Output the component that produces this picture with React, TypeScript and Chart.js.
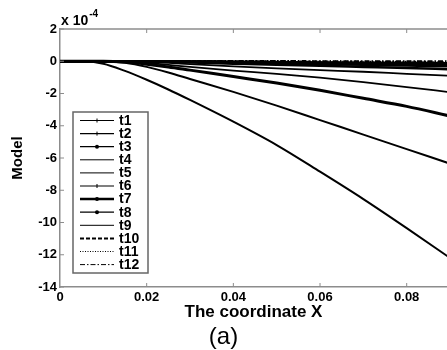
import React, { useEffect, useRef } from "react";
import { Chart, registerables } from "chart.js";

Chart.register(...registerables);

const xValues = [0, 0.005, 0.01, 0.015, 0.02, 0.025, 0.03, 0.04, 0.05, 0.06, 0.07, 0.08, 0.09];
const seriesLabels = ["t1", "t2", "t3", "t4", "t5", "t6", "t7", "t8", "t9", "t10", "t11", "t12"];
const t1 = [0, 0, 0, 0, 0, 0, -0.01, -0.03, -0.05, -0.07, -0.09, -0.1, -0.12];
const t2 = [0, 0, 0, 0, 0, 0, -0.02, -0.05, -0.08, -0.11, -0.14, -0.17, -0.2];
const t3 = [0, 0, 0, 0, 0, 0, -0.03, -0.08, -0.12, -0.17, -0.22, -0.27, -0.32];
const t4 = [0, 0, 0, 0, 0, -0.03, -0.08, -0.15, -0.22, -0.28, -0.35, -0.42, -0.5];
const t5 = [0, 0, 0, 0, -0.04, -0.1, -0.18, -0.32, -0.44, -0.55, -0.65, -0.78, -0.9];
const t6 = [0, 0, 0, -0.02, -0.1, -0.22, -0.35, -0.58, -0.78, -1.02, -1.3, -1.6, -1.92];
const t7 = [0, 0, 0, -0.05, -0.18, -0.35, -0.55, -0.95, -1.35, -1.8, -2.3, -2.8, -3.4];
const t8 = [0, 0, 0, -0.1, -0.35, -0.7, -1.1, -1.9, -2.75, -3.65, -4.55, -5.45, -6.35];
const t9 = [0, 0, -0.15, -0.6, -1.15, -1.75, -2.4, -3.75, -5.2, -6.85, -8.55, -10.35, -12.2];
const t10 = [0, 0, 0, 0, 0, 0, -0.02, -0.04, -0.06, -0.09, -0.11, -0.13, -0.15];
const t11 = [0, 0, 0, 0, 0, 0, 0, -0.01, -0.02, -0.03, -0.04, -0.05, -0.06];
const t12 = [0, 0, 0, 0, 0, 0, 0, 0, 0, -0.01, -0.01, -0.02, -0.02];
const seriesValues = [t1, t2, t3, t4, t5, t6, t7, t8, t9, t10, t11, t12];
const xTicks = [0, 0.02, 0.04, 0.06, 0.08];
const yTicks = [2, 0, -2, -4, -6, -8, -10, -12, -14];

const widths = [2.5, 2.5, 2.5, 2.5, 1.8, 1.8, 3, 2, 2, 2.5, 2.5, 2.5];
const legendWidths = [1.2, 1.2, 1.2, 1, 1, 1.2, 2.5, 1.2, 1, 2, 1, 1];
const dashes: number[][] = [[], [], [], [], [], [], [], [], [], [4, 2], [1, 1.5], [5, 2, 1.5, 2]];
const markers = ["cross", "cross", "circle", "", "", "cross", "circle", "circle", "", "", "", ""];

const AXIS = "#8c8c8c";
const FONT = "'Liberation Sans', Arial, sans-serif";

const decorPlugin = {
  id: "decor",
  afterDatasetsDraw(chart: any) {
    const { ctx, chartArea } = chart;
    const xs = chart.scales.x;
    const ys = chart.scales.y;
    ctx.save();
    // top border
    ctx.strokeStyle = AXIS;
    ctx.lineWidth = 1.5;
    ctx.beginPath();
    ctx.moveTo(chartArea.left, chartArea.top);
    ctx.lineTo(chartArea.right, chartArea.top);
    ctx.stroke();
    // inward ticks
    ctx.lineWidth = 1;
    xTicks.forEach((v) => {
      if (v === 0) return;
      const px = xs.getPixelForValue(v);
      ctx.beginPath();
      ctx.moveTo(px, chartArea.bottom);
      ctx.lineTo(px, chartArea.bottom - 4);
      ctx.moveTo(px, chartArea.top);
      ctx.lineTo(px, chartArea.top + 4);
      ctx.stroke();
    });
    yTicks.forEach((v) => {
      const py = ys.getPixelForValue(v);
      ctx.beginPath();
      ctx.moveTo(chartArea.left, py);
      ctx.lineTo(chartArea.left + 4, py);
      ctx.stroke();
    });
    // exponent label
    ctx.fillStyle = "#000";
    ctx.textBaseline = "middle";
    ctx.textAlign = "left";
    ctx.font = `bold 14px ${FONT}`;
    ctx.fillText("x 10", chartArea.left + 1, chartArea.top - 8);
    const w = ctx.measureText("x 10").width;
    ctx.font = `bold 10px ${FONT}`;
    ctx.fillText("-4", chartArea.left + 2 + w, chartArea.top - 15);

    // legend box
    const x0 = chartArea.left + 13;
    const y0 = chartArea.top + 83;
    const bw = 75;
    const bh = 161;
    ctx.fillStyle = "#fff";
    ctx.fillRect(x0, y0, bw, bh);
    ctx.strokeStyle = "#666";
    ctx.lineWidth = 1.5;
    ctx.strokeRect(x0, y0, bw, bh);
    chart.data.datasets.forEach((ds: any, i: number) => {
      const y = y0 + 8.5 + i * 13.1;
      ctx.strokeStyle = "#000";
      ctx.lineWidth = legendWidths[i];
      ctx.setLineDash(ds.borderDash || []);
      ctx.beginPath();
      ctx.moveTo(x0 + 7, y);
      ctx.lineTo(x0 + 41, y);
      ctx.stroke();
      ctx.setLineDash([]);
      const m = markers[i];
      const cx = x0 + 24;
      if (m === "cross") {
        ctx.lineWidth = 1;
        ctx.beginPath();
        ctx.moveTo(cx, y - 2);
        ctx.lineTo(cx, y + 2);
        ctx.stroke();
      } else if (m === "circle") {
        ctx.fillStyle = "#000";
        ctx.beginPath();
        ctx.arc(cx, y, 2, 0, Math.PI * 2);
        ctx.fill();
      }
      ctx.fillStyle = "#000";
      ctx.font = `bold 14px ${FONT}`;
      ctx.textAlign = "left";
      ctx.textBaseline = "middle";
      ctx.fillText(ds.label, x0 + 46, y + 0.5);
    });
    ctx.restore();
  },
};

export default function App() {
  const ref = useRef<HTMLCanvasElement | null>(null);
  useEffect(() => {
    if (!ref.current) return;
    const datasets = seriesLabels.map((label, i) => ({
      label,
      data: xValues.map((x, j) => ({ x, y: seriesValues[i][j] })),
      borderColor: "#000",
      backgroundColor: "#000",
      borderWidth: widths[i],
      borderDash: dashes[i],
      pointRadius: 0,
      cubicInterpolationMode: "monotone",
      fill: false,
    }));
    const chart = new Chart(ref.current, {
      type: "line",
      data: { datasets },
      plugins: [decorPlugin],
      options: {
        animation: false,
        responsive: false,
        devicePixelRatio: 1,
        layout: { padding: { top: 29, right: 0, left: 0, bottom: 0 } },
        plugins: {
          legend: { display: false },
          tooltip: { enabled: false },
          title: {
            display: true,
            position: "bottom",
            text: "(a)",
            color: "#000",
            font: { family: FONT, size: 24, weight: "normal", lineHeight: 1 },
            padding: { top: 0, bottom: 1 },
          },
        },
        scales: {
          x: {
            type: "linear",
            min: 0,
            max: 0.0893,
            afterBuildTicks: (s: any) => {
              s.ticks = xTicks.map((v) => ({ value: v }));
            },
            afterFit: (s: any) => {
              s.height = 38;
            },
            grid: { display: false, drawTicks: false },
            border: { display: true, color: AXIS, width: 1.5 },
            ticks: {
              padding: 3,
              color: "#000",
              font: { family: FONT, size: 13, weight: "bold" },
              maxRotation: 0,
              callback: (v: any) => String(v),
            },
            title: {
              display: true,
              text: "The coordinate X",
              color: "#000",
              font: { family: FONT, size: 17, weight: "bold" },
              padding: { top: 0, bottom: 2 },
            },
          },
          y: {
            type: "linear",
            min: -14,
            max: 2,
            afterBuildTicks: (s: any) => {
              s.ticks = yTicks.map((v) => ({ value: v }));
            },
            afterFit: (s: any) => {
              s.width = 60;
            },
            grid: { display: false, drawTicks: false },
            border: { display: true, color: AXIS, width: 1.5 },
            ticks: {
              padding: 3,
              color: "#000",
              font: { family: FONT, size: 13, weight: "bold" },
              callback: (v: any) => String(v),
            },
            title: {
              display: true,
              text: "Model",
              color: "#000",
              font: { family: FONT, size: 15, weight: "bold" },
              padding: { top: 9, bottom: 0 },
            },
          },
        },
      },
    } as any);
    return () => chart.destroy();
  }, []);
  return (
    <div style={{ position: "fixed", left: 0, top: 0, width: 447, height: 350, background: "#fff" }}>
      <canvas ref={ref} width={447} height={350} style={{ display: "block" }} />
    </div>
  );
}
